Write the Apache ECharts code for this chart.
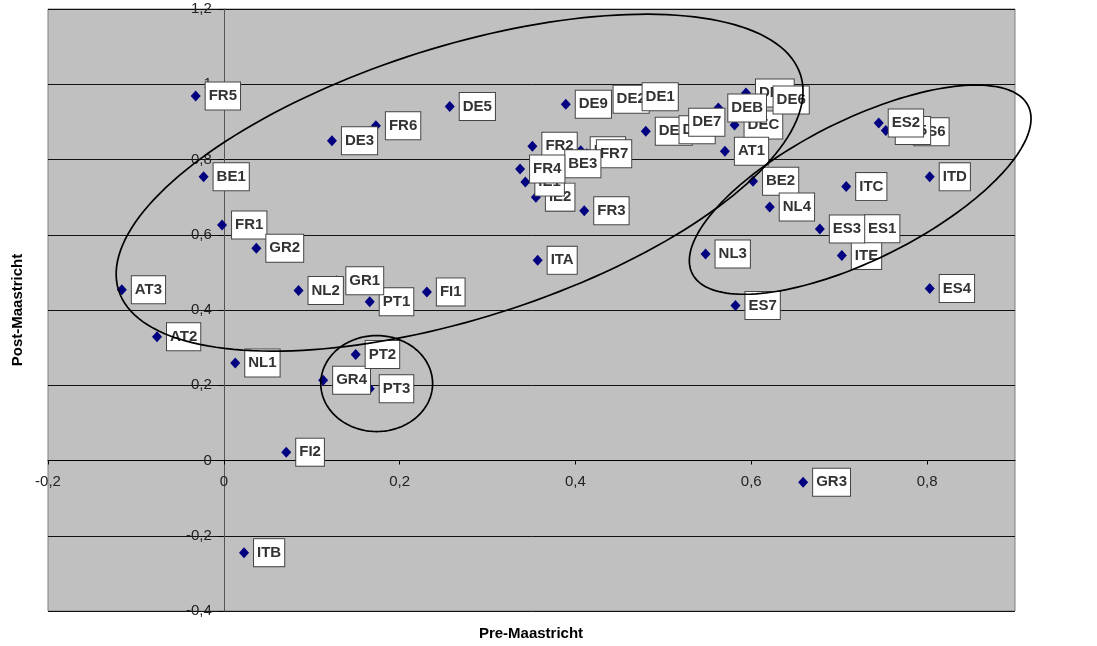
<!DOCTYPE html>
<html>
<head>
<meta charset="utf-8">
<script src="https://cdn.jsdelivr.net/npm/echarts@6.0.0/dist/echarts.min.js"></script>
<style>html,body{margin:0;padding:0;background:#fff}#chart{width:1097px;height:646px}</style>
</head>
<body>
<div id="chart"></div>
<script>
// ---- data ----
const regions = ['FR5','DE3','FR6','DE5','BE1','FR1','GR2','AT3','NL2','PT1','GR1','FI1','ITA','AT2','NL1','PT3','GR4','PT2','FI2','ITB','GR3',
  'DE9','DE2','DE1','IE2','IE1','FR2','FR8','FR7','BE3','FR4','FR3','DEF','DE8','DE7','DEC','DEA','DEB','DE6',
  'AT1','BE2','NL4','NL3','ES7','ITC','ITD','ITE','ES1','ES3','ES4','ES6','ES5','ES2'];
const preMaastricht = [-0.032,0.123,0.173,0.257,-0.023,-0.002,0.037,-0.116,0.085,0.166,0.128,0.231,0.357,-0.076,0.013,0.166,0.113,0.150,0.071,0.023,0.659,
  0.389,0.432,0.465,0.355,0.343,0.351,0.406,0.413,0.377,0.337,0.410,0.480,0.507,0.518,0.581,0.594,0.5625,0.614,
  0.570,0.602,0.621,0.548,0.582,0.708,0.803,0.703,0.718,0.678,0.803,0.774,0.753,0.745];
const postMaastricht = [0.969,0.850,0.890,0.941,0.754,0.626,0.564,0.454,0.452,0.422,0.478,0.448,0.532,0.329,0.259,0.191,0.213,0.282,0.022,-0.245,-0.058,
  0.947,0.960,0.967,0.700,0.740,0.835,0.823,0.815,0.789,0.775,0.664,0.875,0.879,0.899,0.892,0.977,0.937,0.958,
  0.822,0.742,0.674,0.549,0.412,0.728,0.754,0.545,0.616,0.615,0.457,0.874,0.877,0.897];
const xTicks = [-0.2, 0, 0.2, 0.4, 0.6, 0.8];
const xMax = 0.9;
const yTicks = [-0.4, -0.2, 0, 0.2, 0.4, 0.6, 0.8, 1, 1.2];
const xTitle = 'Pre-Maastricht';
const yTitle = 'Post-Maastricht';
// ellipse annotations in data units: [centerX, centerY, majorEndX, majorEndY, minorEndX, minorEndY]
const ellipseBig = [0.2682, 0.7384, 0.6561, 1.0244, 0.3147, 0.3939];
const ellipseRight = [0.7239, 0.7198, 0.9150, 0.9426, 0.7593, 0.5535];
const ellipseSmall = [0.1739, 0.2045, 0.2375, 0.2045, 0.1739, 0.0770];

// ---- chart ----
const FONT = '"Liberation Sans", Arial, sans-serif';
const fmt = v => String(Math.round(v * 10) / 10).replace('.', ',');
const points = regions.map((n, i) => [preMaastricht[i], postMaastricht[i], n]);

const chart = echarts.init(document.getElementById('chart'), null, {renderer: 'canvas'});
chart.setOption({
  animation: false,
  backgroundColor: '#ffffff',
  grid: {left: 48, right: 82, top: 9, bottom: 35, show: true, backgroundColor: '#c0c0c0', borderColor: '#808080', borderWidth: 1},
  xAxis: {
    type: 'value', min: xTicks[0], max: xMax, interval: xTicks[1] - xTicks[0],
    axisLine: {show: true, onZero: false, lineStyle: {color: '#000', width: 1}},
    axisTick: {show: true, length: 4, lineStyle: {color: '#000'}},
    axisLabel: {show: true, margin: 14, fontSize: 15, fontFamily: FONT, color: '#222', formatter: fmt, showMaxLabel: false, showMinLabel: true},
    splitLine: {show: false}
  },
  yAxis: {
    type: 'value', min: yTicks[0], max: yTicks[yTicks.length - 1], interval: yTicks[1] - yTicks[0],
    axisLine: {show: true, onZero: false, lineStyle: {color: '#555', width: 1}},
    axisTick: {show: true, length: 6, lineStyle: {color: '#000'}},
    axisLabel: {show: true, margin: 12, fontSize: 15, fontFamily: FONT, color: '#222', formatter: fmt},
    splitLine: {show: true, lineStyle: {color: '#111', width: 1}}
  },
  graphic: [
    {type: 'text', x: 531, y: 634, z: 100, style: {text: xTitle, font: 'bold 15px ' + FONT, fill: '#000', align: 'center', verticalAlign: 'middle'}},
    {type: 'text', x: 18, y: 310, rotation: Math.PI / 2, z: 100, style: {text: yTitle, font: 'bold 15px ' + FONT, fill: '#000', align: 'center', verticalAlign: 'middle'}}
  ],
  series: [
    {
      type: 'scatter', z: 2,
      symbol: 'diamond', symbolSize: [10, 11],
      itemStyle: {color: '#000080', opacity: 1},
      data: points,
      label: {
        show: true, position: 'right', distance: 5,
        formatter: p => p.value[2],
        fontSize: 15, fontWeight: 'bold', fontFamily: FONT, color: '#333',
        backgroundColor: '#ffffff', borderColor: '#444', borderWidth: 1,
        padding: [5, 3, 4, 3], lineHeight: 18
      },
      emphasis: {disabled: true}
    },
    {
      type: 'custom', coordinateSystem: 'cartesian2d', clip: false, z: 10, silent: true,
      data: [ellipseBig, ellipseRight, ellipseSmall],
      encode: {x: [0, 2, 4], y: [1, 3, 5]},
      renderItem: function (params, api) {
        const c = api.coord([api.value(0), api.value(1)]);
        const a = api.coord([api.value(2), api.value(3)]);
        const b = api.coord([api.value(4), api.value(5)]);
        const u = [a[0] - c[0], a[1] - c[1]];
        const v = [b[0] - c[0], b[1] - c[1]];
        const pts = [];
        const N = 180;
        for (let i = 0; i < N; i++) {
          const t = i / N * 2 * Math.PI;
          pts.push([c[0] + u[0] * Math.cos(t) + v[0] * Math.sin(t), c[1] + u[1] * Math.cos(t) + v[1] * Math.sin(t)]);
        }
        return {type: 'polygon', shape: {points: pts}, style: {fill: 'none', stroke: '#000', lineWidth: 1.7}};
      }
    }
  ]
});

// Place the axes (lines, ticks and labels) on the zero lines, as in the reference.
const zeroX = chart.convertToPixel({xAxisIndex: 0}, 0);
const leftX = chart.convertToPixel({xAxisIndex: 0}, xTicks[0]);
const zeroY = chart.convertToPixel({yAxisIndex: 0}, 0);
const bottomY = chart.convertToPixel({yAxisIndex: 0}, yTicks[0]);
chart.setOption({
  xAxis: {offset: -(bottomY - zeroY)},
  yAxis: {offset: -(zeroX - leftX)}
});
</script>
</body>
</html>
